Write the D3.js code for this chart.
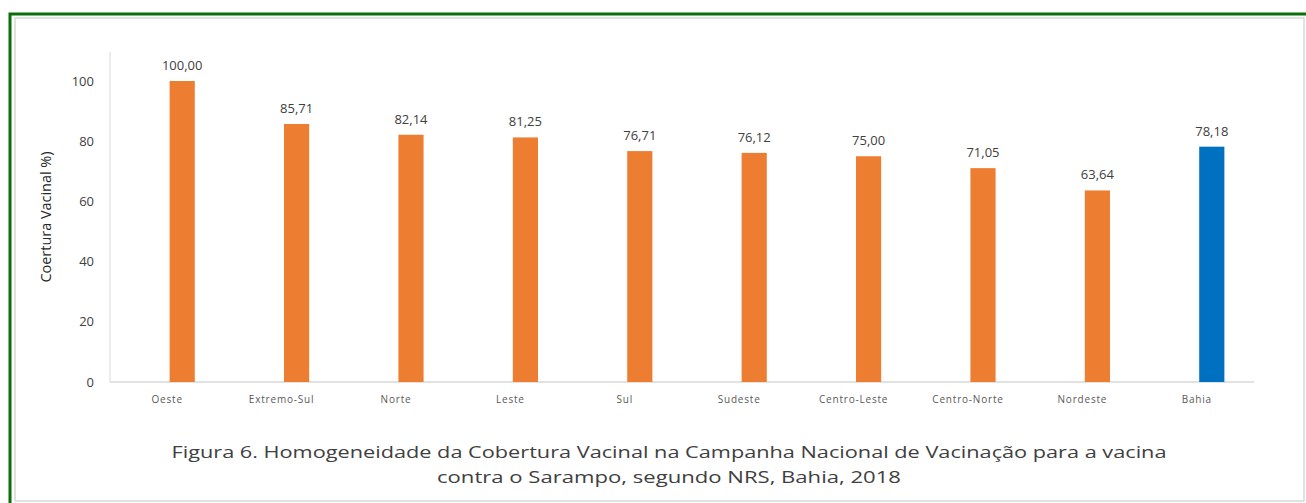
<!DOCTYPE html>
<html>
<head>
<meta charset="utf-8">
<script src="https://cdn.jsdelivr.net/npm/d3@7"></script>
<style>
  body { margin: 0; background: #fff; }
  text { font-family: "Open Sans", "DejaVu Sans", sans-serif; }
</style>
</head>
<body>
<script>
var categories = ['Oeste', 'Extremo-Sul', 'Norte', 'Leste', 'Sul', 'Sudeste', 'Centro-Leste', 'Centro-Norte', 'Nordeste', 'Bahia'];
var values = [100.00, 85.71, 82.14, 81.25, 76.71, 76.12, 75.00, 71.05, 63.64, 78.18];
var yTicks = [0, 20, 40, 60, 80, 100];
var titleLines = ['Figura 6. Homogeneidade da Cobertura Vacinal na Campanha Nacional de Vacinação para a vacina',
                  'contra o Sarampo,   segundo NRS, Bahia, 2018'];
var titleWidths = [995, 464];

var width = 1306, height = 503;
var svg = d3.select('body').append('svg')
    .attr('width', width)
    .attr('height', height);

// frame
svg.append('rect').attr('x', 15).attr('y', 18).attr('width', 1289).attr('height', 483)
    .attr('fill', 'none').attr('stroke', '#d8d8d8').attr('stroke-width', 1.5);
svg.append('rect').attr('x', 10).attr('y', 14).attr('width', 1330).attr('height', 520)
    .attr('fill', 'none').attr('stroke', '#0b6e0b').attr('stroke-width', 3);

// bars sit a little right of the label slots in the original
var x = d3.scaleBand()
    .domain(categories)
    .range([125, 1269])
    .paddingInner(0.78)
    .paddingOuter(0.39);

var xLab = d3.scaleBand()
    .domain(categories)
    .range([110, 1254]);

var y = d3.scaleLinear()
    .domain([0, 100])
    .range([382, 81]);

// axis lines
svg.append('line').attr('x1', 110).attr('x2', 110).attr('y1', 52).attr('y2', y(0))
    .attr('stroke', '#d9d9d9');
svg.append('line').attr('x1', 110).attr('x2', 1254).attr('y1', y(0)).attr('y2', y(0))
    .attr('stroke', '#d9d9d9').attr('stroke-width', 1.5);

// y tick labels
svg.selectAll('.ytick')
    .data(yTicks)
    .enter()
    .append('text')
    .attr('class', 'ytick')
    .attr('x', 94)
    .attr('y', function (d) { return y(d); })
    .attr('dy', '0.35em')
    .attr('text-anchor', 'end')
    .attr('font-size', 13)
    .attr('fill', '#404040')
    .text(function (d) { return d; });

svg.append('text')
    .attr('transform', 'translate(51,217) rotate(-90)')
    .attr('text-anchor', 'middle')
    .attr('font-size', 15)
    .attr('textLength', 131)
    .attr('lengthAdjust', 'spacingAndGlyphs')
    .attr('fill', '#262626')
    .text('Coertura Vacinal %)');

// bars
svg.selectAll('.bar')
    .data(values)
    .enter()
    .append('rect')
    .attr('class', 'bar')
    .attr('x', function (d, i) { return x(categories[i]); })
    .attr('y', function (d) { return y(d); })
    .attr('width', x.bandwidth())
    .attr('height', function (d) { return y(0) - y(d); })
    .attr('fill', function (d, i) { return categories[i] === 'Bahia' ? '#0070c0' : '#ed7d31'; });

// value labels
svg.selectAll('.val')
    .data(values)
    .enter()
    .append('text')
    .attr('class', 'val')
    .attr('x', function (d, i) { return x(categories[i]) + x.bandwidth() / 2; })
    .attr('y', function (d) { return y(d) - 11; })
    .attr('text-anchor', 'middle')
    .attr('font-size', 13)
    .attr('fill', '#404040')
    .text(function (d) { return d.toFixed(2).replace('.', ','); });

// category labels
svg.selectAll('.cat')
    .data(categories)
    .enter()
    .append('text')
    .attr('class', 'cat')
    .attr('x', function (d) { return xLab(d) + xLab.bandwidth() / 2; })
    .attr('y', 403)
    .attr('text-anchor', 'middle')
    .attr('font-size', 10)
    .attr('letter-spacing', 0.8)
    .attr('fill', '#595959')
    .text(function (d) { return d; });

// caption
svg.selectAll('.cap')
    .data(titleLines)
    .enter()
    .append('text')
    .attr('class', 'cap')
    .attr('x', 669)
    .attr('y', function (d, i) { return 458 + i * 25; })
    .attr('text-anchor', 'middle')
    .attr('font-size', 17)
    .attr('textLength', function (d, i) { return titleWidths[i]; })
    .attr('lengthAdjust', 'spacingAndGlyphs')
    .attr('fill', '#404040')
    .text(function (d) { return d; });
</script>
</body>
</html>
